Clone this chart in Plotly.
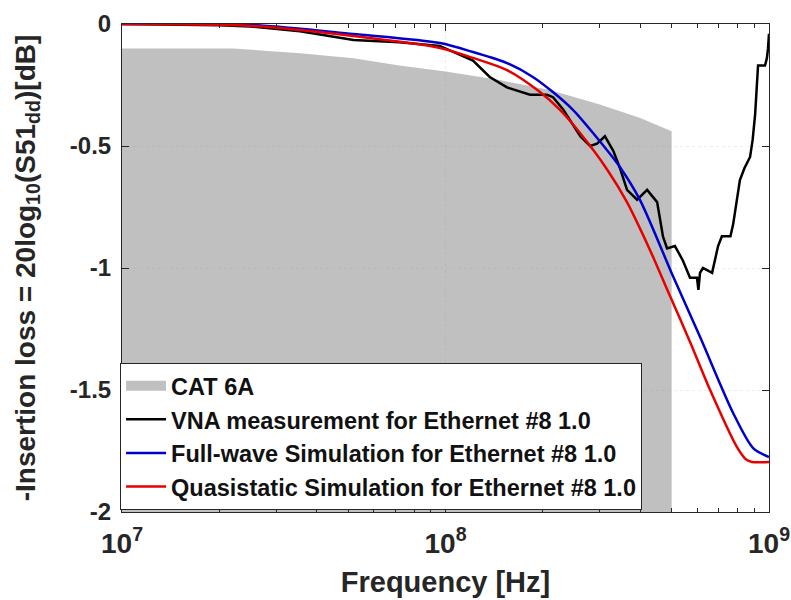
import plotly.graph_objects as go

# ---------------- data ----------------
cat_f = [1e7, 2.2e7, 3.55e7, 5.2e7, 7.2e7, 1e8, 1.47e8, 2.1e8, 3e8, 4e8, 5e8]
cat_v = [-0.10, -0.10, -0.12, -0.14, -0.17, -0.195, -0.23, -0.27, -0.33, -0.385, -0.44]

vna_f = [1e7, 2e7, 2.5e7, 3.55e7, 5.2e7, 7.2e7, 9.6e7, 1.216e8, 1.37e8, 1.549e8, 1.825e8,
         2.06e8, 2.15e8, 2.31e8, 2.61e8, 2.8e8, 2.94e8, 3.11e8, 3.30e8, 3.46e8, 3.64e8,
         3.91e8, 4.2e8, 4.51e8, 4.70e8, 4.84e8, 5.12e8, 5.42e8, 5.70e8, 5.99e8, 6.05e8,
         6.12e8, 6.25e8, 6.67e8, 6.96e8, 7.15e8, 7.6e8, 7.75e8, 8.13e8, 8.4e8, 8.74e8,
         8.9e8, 9.06e8, 9.25e8, 9.72e8, 9.85e8, 9.93e8, 1e9]
vna_v = [0.0, -0.005, -0.01, -0.03, -0.066, -0.075, -0.09, -0.15, -0.217, -0.26, -0.29,
         -0.29, -0.30, -0.35, -0.46, -0.50, -0.49, -0.46, -0.52, -0.59, -0.68,
         -0.72, -0.68, -0.73, -0.87, -0.92, -0.91, -0.97, -1.04, -1.04, -1.09,
         -1.02, -1.00, -1.02, -0.91, -0.87, -0.87, -0.82, -0.64, -0.59, -0.545,
         -0.475, -0.37, -0.17, -0.17, -0.14, -0.10, -0.04]

fw_f = [1e7, 2.54e7, 5.18e7, 9.62e7, 1.216e8, 1.549e8, 1.862e8, 2.148e8, 2.477e8, 2.858e8,
        3.459e8, 3.99e8, 5.047e8, 6.124e8, 7.745e8, 8.933e8, 1e9]
fw_v = [0.0, -0.004, -0.041, -0.078, -0.115, -0.160, -0.217, -0.279, -0.352, -0.447,
        -0.586, -0.721, -1.033, -1.283, -1.594, -1.738, -1.775]

qs_f = [1e7, 2.54e7, 5.18e7, 9.62e7, 1.216e8, 1.549e8, 1.959e8, 2.259e8, 2.606e8, 3.155e8,
        3.639e8, 4.285e8, 4.943e8, 5.702e8, 6.577e8, 7.962e8, 8.5e8, 8.851e8, 1e9]
qs_v = [0.0, -0.008, -0.049, -0.098, -0.139, -0.189, -0.279, -0.352, -0.447, -0.595,
        -0.73, -0.926, -1.115, -1.303, -1.50, -1.734, -1.785, -1.795, -1.795]

x_ticks = [1e7, 1e8, 1e9]
x_ticktext = ["10<sup>7</sup>", "10<sup>8</sup>", "10<sup>9</sup>"]
x_minor = [2e7, 3e7, 4e7, 5e7, 6e7, 7e7, 8e7, 9e7,
           2e8, 3e8, 4e8, 5e8, 6e8, 7e8, 8e8, 9e8]
y_ticks = [0, -0.5, -1, -1.5, -2]
y_ticktext = ["0", "-0.5", "-1", "-1.5", "-2"]

FONT = "Liberation Sans, Arial, Helvetica, sans-serif"
AX = "#262626"

fig = go.Figure()

# CAT 6A shaded region (from curve down to -2)
fig.add_trace(go.Scatter(
    x=cat_f + [cat_f[-1], cat_f[0]],
    y=cat_v + [-2, -2],
    fill="toself", fillcolor="rgba(150,150,150,0.6)",
    line=dict(width=0, color="rgba(150,150,150,0.6)"),
    mode="lines", name="CAT 6A", hoverinfo="skip", showlegend=False,
    legendgroup="cat"))
# legend entry for CAT 6A (thick swatch)
fig.add_trace(go.Scatter(
    x=[None], y=[None], mode="lines",
    line=dict(color="#c0c0c0", width=16),
    name="CAT 6A", legendgroup="cat"))

fig.add_trace(go.Scatter(x=vna_f, y=vna_v, mode="lines",
                         line=dict(color="black", width=2.5),
                         name="VNA measurement for Ethernet #8 1.0"))
fig.add_trace(go.Scatter(x=fw_f, y=fw_v, mode="lines", line_shape="spline",
                         line=dict(color="#0000cc", width=2.5, smoothing=0.8),
                         name="Full-wave Simulation for Ethernet #8 1.0"))
fig.add_trace(go.Scatter(x=qs_f, y=qs_v, mode="lines", line_shape="spline",
                         line=dict(color="#e60000", width=2.5, smoothing=0.8),
                         name="Quasistatic Simulation for Ethernet #8 1.0"))

fig.update_layout(
    width=791, height=600,
    margin=dict(l=122, r=22, t=24, b=88),
    paper_bgcolor="white", plot_bgcolor="white",
    font=dict(family=FONT, color=AX, weight="bold"),
    showlegend=True,
    legend=dict(x=-0.003, y=0.004, xanchor="left", yanchor="bottom",
                bgcolor="white", bordercolor=AX, borderwidth=1,
                font=dict(size=23.5, family=FONT, color="#111111", weight="bold"),
                itemwidth=40, tracegroupgap=0),
)

fig.update_xaxes(
    type="log", range=[7, 9], automargin=False,
    tickvals=x_ticks, ticktext=x_ticktext,
    tickfont=dict(size=28, family=FONT, color=AX, weight="bold"),
    ticklabelstandoff=6,
    ticks="inside", ticklen=7, tickcolor=AX,
    minor=dict(ticks="inside", ticklen=4, tickcolor=AX, tickmode="array",
               tickvals=x_minor, showgrid=False),
    showline=True, linecolor=AX, linewidth=1, mirror="ticks",
    showgrid=True, gridcolor="rgba(0,0,0,0.08)", griddash="dot",
    zeroline=False,
    title=dict(text="Frequency [Hz]", font=dict(size=29, family=FONT, color=AX, weight="bold"),
               standoff=14),
)
fig.update_yaxes(
    range=[-2, 0], automargin=False,
    tickvals=y_ticks, ticktext=y_ticktext,
    tickfont=dict(size=24, family=FONT, color=AX, weight="bold"),
    ticklabelstandoff=5,
    ticks="inside", ticklen=7, tickcolor=AX,
    showline=True, linecolor=AX, linewidth=1, mirror="ticks",
    showgrid=True, gridcolor="rgba(0,0,0,0.08)", griddash="dot",
    zeroline=False,
    title=dict(text="-Insertion loss = 20log<sub>10</sub>(S51<sub>dd</sub>)[dB]",
               font=dict(size=28, family=FONT, color=AX, weight="bold"),
               standoff=26),
)

fig.write_html("out.html")
